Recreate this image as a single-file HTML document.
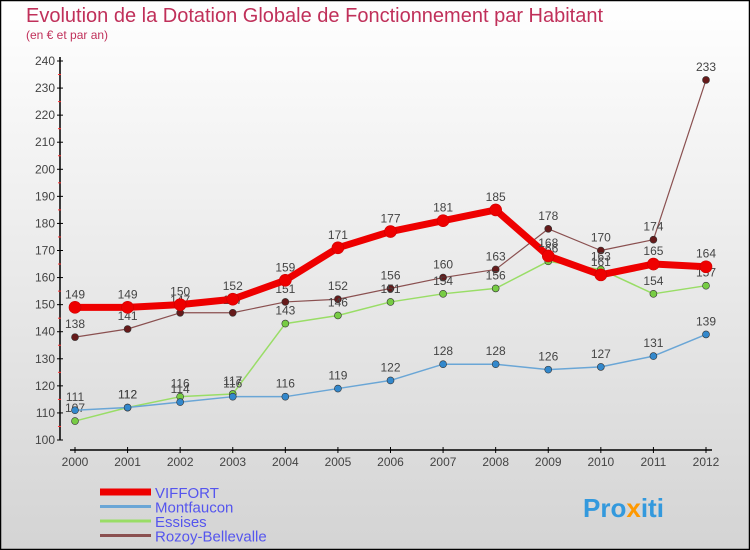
<!DOCTYPE html>
<html><head><meta charset="utf-8"><style>
body{margin:0}
#c{width:750px;height:550px;position:relative;overflow:hidden;font-family:"Liberation Sans","DejaVu Sans",sans-serif}
</style></head><body>
<div id="c">
<svg id="s" width="750" height="550" xmlns="http://www.w3.org/2000/svg">
<defs><linearGradient id="bg" x1="0" y1="0" x2="0" y2="1"><stop offset="0" stop-color="#ffffff"/><stop offset="1" stop-color="#d4d4d4"/></linearGradient></defs>
<rect x="0.5" y="0.5" width="749" height="549" fill="url(#bg)" stroke="#000" stroke-width="1.5"/>
<text x="26" y="22" font-size="20" fill="#c0305a">Evolution de la Dotation Globale de Fonctionnement par Habitant</text>
<text x="26" y="39" font-size="12" fill="#c0305a">(en € et par an)</text>
<g id="axes"></g><g id="series"></g><g id="legend"></g>
<text x="583" y="517" font-size="26" font-weight="bold" fill="#3399dd">Pro<tspan fill="#ff9900">x</tspan>iti</text>
</svg>
</div>
<script>
const years=["2000","2001","2002","2003","2004","2005","2006","2007","2008","2009","2010","2011","2012"];
const yTicks=[100,110,120,130,140,150,160,170,180,190,200,210,220,230,240];
const viffort=[149,149,150,152,159,171,177,181,185,168,161,165,164];
const montfaucon=[111,112,114,116,116,119,122,128,128,126,127,131,139];
const essises=[107,112,116,117,143,146,151,154,156,166,163,154,157];
const rozoy=[138,141,147,147,151,152,156,160,163,178,170,174,233];
const NS="http://www.w3.org/2000/svg";
function X(i){return 75+i*(706-75)/12;}
function Y(v){return 440-(v-100)*(440-61)/140;}
function mk(t,a,p){const e=document.createElementNS(NS,t);for(const k in a)e.setAttribute(k,a[k]);p.appendChild(e);return e;}
const ax=document.getElementById('axes');
const ya=mk('line',{x1:60,y1:Y(240)-4,x2:60,y2:440,stroke:'#000','stroke-width':1.5},ax);


yTicks.forEach(v=>{
 mk('line',{x1:57,y1:Y(v),x2:63,y2:Y(v),stroke:'#000'},ax);
 if(v<240) mk('line',{x1:58,y1:Y(v+5),x2:61,y2:Y(v+5),stroke:'#f33'},ax);
 const t=mk('text',{x:55,y:Y(v)+4,'font-size':12,'text-anchor':'end',fill:'#444'},ax);t.textContent=v;
 
 
});
const xa=mk('line',{x1:70,y1:450,x2:712,y2:450,stroke:'#000','stroke-width':1.5},ax);


years.forEach((y,i)=>{
 mk('line',{x1:X(i),y1:447,x2:X(i),y2:453,stroke:'#000'},ax);
 const t=mk('text',{x:X(i),y:466,'font-size':12,'text-anchor':'middle',fill:'#444'},ax);t.textContent=y;
 
 
});
const sg=document.getElementById('series');
const series=[
 {n:'rozoy',d:rozoy,c:'#8a5050',w:1.2,r:3.5,f:'#661a1a',lab:'Rozoy-Bellevalle'},
 {n:'essises',d:essises,c:'#99dd66',w:1.5,r:3.5,f:'#77cc44',lab:'Essises'},
 {n:'montfaucon',d:montfaucon,c:'#6aa6d6',w:1.5,r:3.5,f:'#3388cc',lab:'Montfaucon'},
 {n:'viffort',d:viffort,c:'#ee0000',w:7,r:6,f:'#ee0000',lab:'VIFFORT'}];
series.forEach(s=>{
 const g=mk('g',{},sg);
 
 
 const p=mk('polyline',{points:s.d.map((v,i)=>X(i)+','+Y(v)).join(' '),fill:'none',stroke:s.c,'stroke-width':s.w,'stroke-linejoin':'round'},g);
 
 
 s.d.forEach((v,i)=>{
  const c=mk('circle',{cx:X(i),cy:Y(v),r:s.r,fill:s.f,stroke:s.n==='viffort'?'#cc0000':'#333','stroke-width':0.6},g);
  
  
  const t=mk('text',{x:X(i),y:Y(v)-9,'font-size':12,'text-anchor':'middle',fill:'#444'},g);t.textContent=v;
  
  
 });
});
const lg=document.getElementById('legend');
const lorder=[series[3],series[2],series[1],series[0]];
lorder.forEach((s,k)=>{
 const y=492+k*14.5;
 const g=mk('g',{},lg);
 
 
 mk('line',{x1:100,y1:y,x2:151,y2:y,stroke:s.c,'stroke-width':s.n==='viffort'?7:3},g);
 const t=mk('text',{x:155,y:y+6,'font-size':15,fill:'#5555ee'},g);t.textContent=s.lab;
});
</script>
</body></html>
